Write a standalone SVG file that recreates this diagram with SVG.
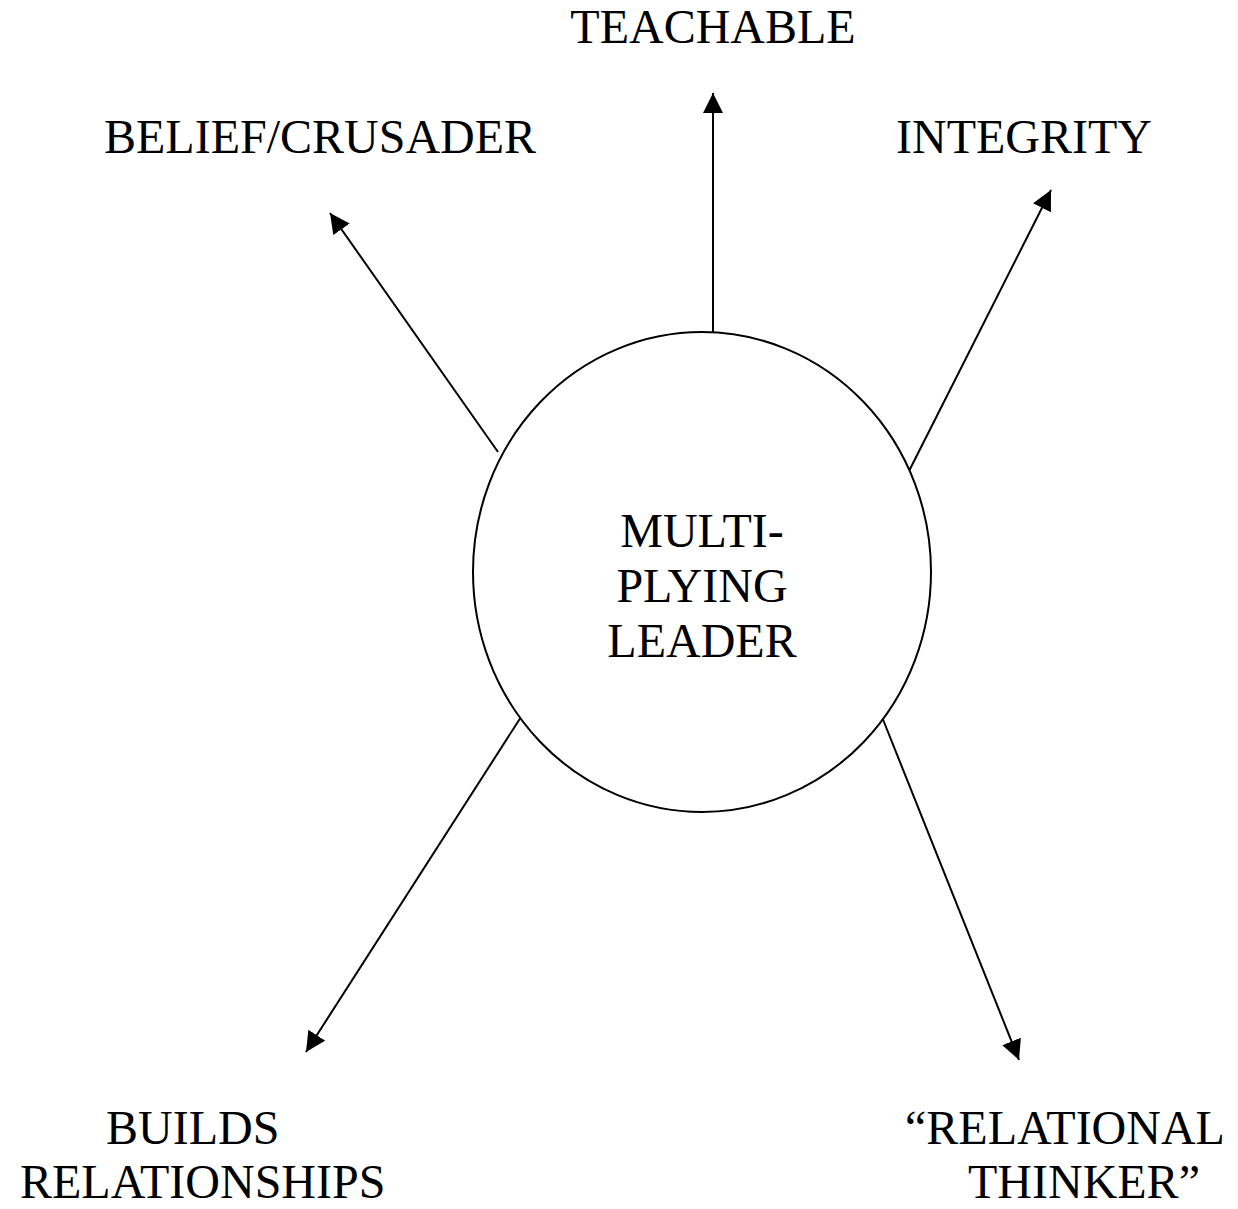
<svg xmlns="http://www.w3.org/2000/svg" width="1238" height="1209" viewBox="0 0 1238 1209">
  <defs>
    <style>
      text { font-family: "Liberation Serif", "Times New Roman", serif; font-size: 48px; fill: #000; }
      .c { text-anchor: middle; }
      .conn line { stroke: #000; stroke-width: 2; fill: none; }
      .node ellipse { fill: #fff; stroke: #000; stroke-width: 2; }
    </style>
    <marker id="arrow" markerUnits="userSpaceOnUse" markerWidth="21" markerHeight="21" viewBox="0 0 21 21" refX="20" refY="10" orient="auto">
      <path d="M0,0 L20,10 L0,20 Z" fill="#000"/>
    </marker>
  </defs>
  <rect width="1238" height="1209" fill="#fff"/>

  <g id="connectors" class="conn">
    <line x1="713" y1="332" x2="713" y2="93" marker-end="url(#arrow)"/>
    <line x1="498" y1="452" x2="330" y2="213" marker-end="url(#arrow)"/>
    <line x1="906" y1="477" x2="1051" y2="190" marker-end="url(#arrow)"/>
    <line x1="521" y1="717" x2="306" y2="1052" marker-end="url(#arrow)"/>
    <line x1="882" y1="717" x2="1019" y2="1060" marker-end="url(#arrow)"/>
  </g>

  <g id="center" class="node">
    <ellipse cx="702" cy="572" rx="229" ry="240"/>
    <text class="c" x="702" y="547">MULTI-</text>
    <text class="c" x="702" y="602">PLYING</text>
    <text class="c" x="702" y="657">LEADER</text>
  </g>

  <g id="teachable">
    <text class="c" x="713" y="43">TEACHABLE</text>
  </g>
  <g id="belief">
    <text x="104" y="153">BELIEF/CRUSADER</text>
  </g>
  <g id="integrity">
    <text x="896" y="153">INTEGRITY</text>
  </g>
  <g id="builds">
    <text x="106" y="1144">BUILDS</text>
    <text x="20" y="1198">RELATIONSHIPS</text>
  </g>
  <g id="relational">
    <text x="905" y="1144">“RELATIONAL</text>
    <text x="968" y="1198">THINKER”</text>
  </g>
</svg>
